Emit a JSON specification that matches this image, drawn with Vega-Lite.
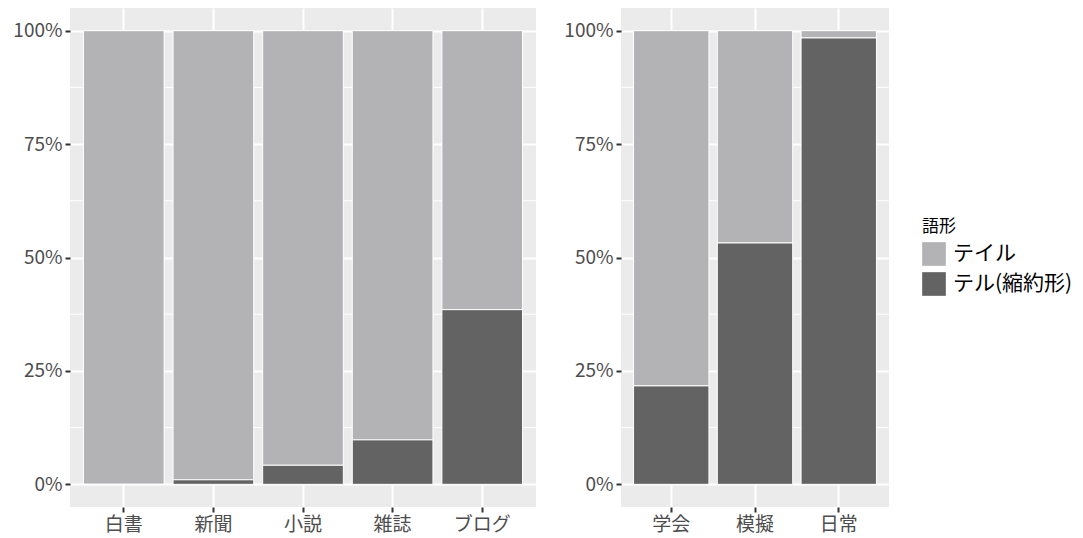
{
  "$schema": "https://vega.github.io/schema/vega-lite/v6.json",
  "padding": {"left": 12, "top": 8, "right": 5, "bottom": 5},
  "background": "white",
  "datasets": {
    "left": [
      {"genre": "白書", "form": "テイル", "p": 1.0},
      {"genre": "白書", "form": "テル(縮約形)", "p": 0.0},
      {"genre": "新聞", "form": "テイル", "p": 0.99},
      {"genre": "新聞", "form": "テル(縮約形)", "p": 0.01},
      {"genre": "小説", "form": "テイル", "p": 0.958},
      {"genre": "小説", "form": "テル(縮約形)", "p": 0.042},
      {"genre": "雑誌", "form": "テイル", "p": 0.902},
      {"genre": "雑誌", "form": "テル(縮約形)", "p": 0.098},
      {"genre": "ブログ", "form": "テイル", "p": 0.615},
      {"genre": "ブログ", "form": "テル(縮約形)", "p": 0.385}
    ],
    "right": [
      {"genre": "学会", "form": "テイル", "p": 0.783},
      {"genre": "学会", "form": "テル(縮約形)", "p": 0.217},
      {"genre": "模擬", "form": "テイル", "p": 0.468},
      {"genre": "模擬", "form": "テル(縮約形)", "p": 0.532},
      {"genre": "日常", "form": "テイル", "p": 0.016},
      {"genre": "日常", "form": "テル(縮約形)", "p": 0.984}
    ],
    "minor": [{"v": 0.125}, {"v": 0.375}, {"v": 0.625}, {"v": 0.875}]
  },
  "config": {
    "font": "Noto Sans CJK JP",
    "view": {"fill": "#EBEBEB", "stroke": null},
    "axis": {
      "domain": false,
      "grid": true,
      "gridColor": "#FFFFFF",
      "gridWidth": 2,
      "tickColor": "#333333",
      "tickWidth": 2,
      "tickSize": 5,
      "labelColor": "#4D4D4D",
      "labelFontSize": 19,
      "labelFont": "Noto Sans CJK JP",
      "title": null
    },
    "legend": {
      "titleFont": "Noto Sans CJK JP",
      "labelFont": "Noto Sans CJK JP"
    },
    "concat": {"spacing": 26}
  },
  "hconcat": [
    {
      "width": 466,
      "height": 499,
      "layer": [
        {
          "data": {"name": "minor"},
          "mark": {"type": "rule", "color": "#FFFFFF", "strokeWidth": 1},
          "encoding": {
            "y": {"field": "v", "type": "quantitative", "scale": {"domain": [-0.05, 1.05], "nice": false, "zero": false}}
          }
        },
        {
          "data": {"name": "left"},
          "mark": {"type": "bar", "stroke": "#FFFFFF", "strokeWidth": 1},
          "encoding": {
            "x": {
              "field": "genre", "type": "nominal",
              "sort": ["白書", "新聞", "小説", "雑誌", "ブログ"],
              "scale": {"paddingInner": 0.1, "paddingOuter": 0.15},
              "axis": {"labelAngle": 0, "bandPosition": 0.5, "labelPadding": 3}
            },
            "y": {
              "field": "p", "type": "quantitative", "stack": "normalize",
              "scale": {"domain": [-0.05, 1.05], "nice": false, "zero": false},
              "axis": {"values": [0, 0.25, 0.5, 0.75, 1], "format": ".0%", "labelPadding": 3}
            },
            "color": {
              "field": "form", "type": "nominal",
              "scale": {"domain": ["テイル", "テル(縮約形)"], "range": ["#B3B3B6", "#636363"]},
              "legend": {
                "title": "語形",
                "orient": "none",
                "legendX": 852,
                "legendY": 211,
                "titleFontSize": 17,
                "titleFontWeight": "normal",
                "titleColor": "#000000",
                "labelFontSize": 21,
                "labelColor": "#000000",
                "labelOffset": 7,
                "symbolType": "square",
                "symbolSize": 560,
                "symbolStrokeWidth": 0,
                "symbolOpacity": 1,
                "rowPadding": 6,
                "titlePadding": 6
              }
            },
            "order": {"field": "form", "sort": "descending"}
          }
        }
      ]
    },
    {
      "width": 268,
      "height": 499,
      "layer": [
        {
          "data": {"name": "minor"},
          "mark": {"type": "rule", "color": "#FFFFFF", "strokeWidth": 1},
          "encoding": {
            "y": {"field": "v", "type": "quantitative", "scale": {"domain": [-0.05, 1.05], "nice": false, "zero": false}}
          }
        },
        {
          "data": {"name": "right"},
          "mark": {"type": "bar", "stroke": "#FFFFFF", "strokeWidth": 1},
          "encoding": {
            "x": {
              "field": "genre", "type": "nominal",
              "sort": ["学会", "模擬", "日常"],
              "scale": {"paddingInner": 0.1, "paddingOuter": 0.15},
              "axis": {"labelAngle": 0, "bandPosition": 0.5, "labelPadding": 3}
            },
            "y": {
              "field": "p", "type": "quantitative", "stack": "normalize",
              "scale": {"domain": [-0.05, 1.05], "nice": false, "zero": false},
              "axis": {"values": [0, 0.25, 0.5, 0.75, 1], "format": ".0%", "labelPadding": 3}
            },
            "color": {
              "field": "form", "type": "nominal",
              "scale": {"domain": ["テイル", "テル(縮約形)"], "range": ["#B3B3B6", "#636363"]}
            },
            "order": {"field": "form", "sort": "descending"}
          }
        }
      ]
    }
  ],
  "resolve": {"scale": {"x": "independent", "y": "independent"}}
}
